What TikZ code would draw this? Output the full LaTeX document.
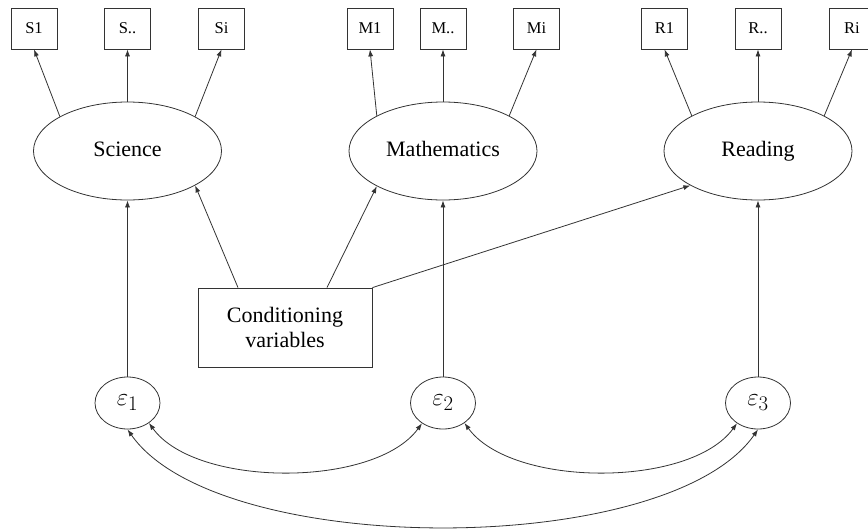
\documentclass[tikz,border=0pt]{standalone}
\usepackage{fontspec}
\setmainfont{Liberation Serif}
\usetikzlibrary{arrows.meta,shapes.geometric}
\begin{document}
\begin{tikzpicture}[x=1pt,y=-1pt,
  line width=0.8pt, draw=black!80,
  obs/.style={draw=black!80, rectangle, minimum width=46pt, minimum height=41pt, inner sep=0pt, font=\fontsize{16.5}{20}\selectfont},
  lat/.style={draw=black!80, ellipse, minimum width=188pt, minimum height=98pt, inner sep=0pt, text height=15pt, text depth=5pt, font=\fontsize{22}{26}\selectfont},
  err/.style={draw=black!80, ellipse, minimum width=65pt, minimum height=52pt, inner sep=0pt, font=\fontsize{28}{32}\selectfont},
  condbox/.style={draw=black!80, rectangle, minimum width=174pt, minimum height=79pt, inner sep=0pt, align=center, font=\fontsize{22}{25}\selectfont},
  arr/.style={draw=black!80, -{Latex[length=7pt,width=5pt]}},
  darr/.style={draw=black!80, {Latex[length=7pt,width=5pt]}-{Latex[length=7pt,width=5pt]}}
]
\useasboundingbox (0,0) rectangle (868,530);

% indicator boxes
\node[obs] (s1) at (34,28.5) {S1};
\node[obs] (s2) at (127.5,28.5) {S..};
\node[obs] (s3) at (221.5,28.5) {Si};
\node[obs] (m1) at (370,28.5) {M1};
\node[obs] (m2) at (443,28.5) {M..};
\node[obs] (m3) at (536.5,28.5) {Mi};
\node[obs] (r1) at (664.5,28.5) {R1};
\node[obs] (r2) at (758,28.5) {R..};
\node[obs] (r3) at (852,28.5) {Ri};

% latent ellipses
\node[lat] (sci) at (127.5,151) {Science};
\node[lat] (mat) at (443,151) {Mathematics};
\node[lat] (rea) at (758,151) {Reading};

% conditioning variables
\node[condbox] (cond) at (285,327.5) {Conditioning\\variables};

% errors
\node[err] (e1) at (127.5,403) {$\varepsilon_1$};
\node[err] (e2) at (443,403) {$\varepsilon_2$};
\node[err] (e3) at (758,403) {$\varepsilon_3$};

% loadings
\draw[arr] (sci.153) -- (s1.south);
\draw[arr] (sci.north) -- (s2.south);
\draw[arr] (sci.27) -- (s3.south);
\draw[arr] (mat.152) -- (m1.south);
\draw[arr] (mat.north) -- (m2.south);
\draw[arr] (mat.28) -- (m3.south);
\draw[arr] (rea.152) -- (r1.south);
\draw[arr] (rea.north) -- (r2.south);
\draw[arr] (rea.28) -- (r3.south);

% conditioning effects
\draw[arr] ([xshift=-47pt]cond.north) -- (sci.-27);
\draw[arr] ([xshift=42pt]cond.north) -- (mat.-152);
\draw[arr] (cond.north east) -- (rea.-153);

% error effects
\draw[arr] (e1.north) -- (sci.south);
\draw[arr] (e2.north) -- (mat.south);
\draw[arr] (e3.north) -- (rea.south);

% covariances
\draw[darr] (e1.-43) .. controls (196,488) and (375,488) .. (e2.-136);
\draw[darr] (e2.-43) .. controls (512,488) and (690,488) .. (e3.-136);
\draw[darr] (e1.south) .. controls (218,559) and (668,559) .. (e3.south);
\end{tikzpicture}
\end{document}
